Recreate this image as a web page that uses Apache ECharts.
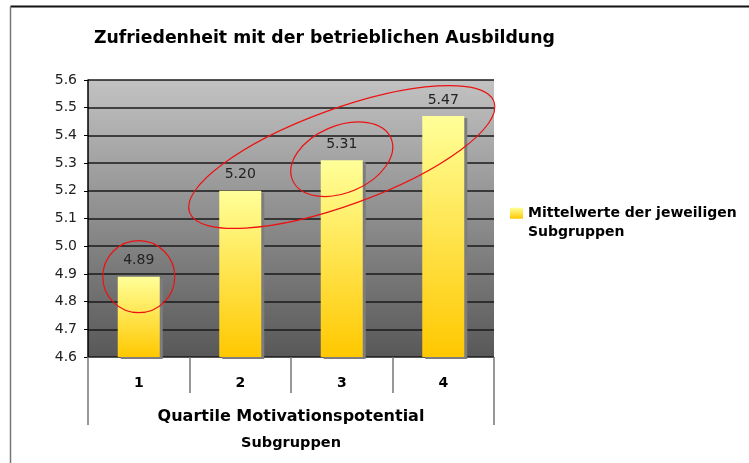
<!DOCTYPE html>
<html>
<head>
<meta charset="utf-8">
<script src="https://cdn.jsdelivr.net/npm/echarts@6/dist/echarts.min.js"></script>
<style>
html,body{margin:0;padding:0;background:#fff;}
#chart{width:749px;height:463px;}
</style>
</head>
<body>
<div id="chart"></div>
<script>
// ---- data ----
const titleText = 'Zufriedenheit mit der betrieblichen Ausbildung';
const categories = ['1', '2', '3', '4'];
const values = [4.89, 5.20, 5.31, 5.47];
const seriesName = 'Mittelwerte der jeweiligen Subgruppen';
const xAxisTitle = 'Quartile Motivationspotential';
const xAxisGroupTitle = 'Subgruppen';
const yMin = 4.6, yMax = 5.6, yStep = 0.1;
// annotation ellipses: [category position, value] centres
const markCentres = [[-0.02, 4.89], [1.96, 5.322], [1.955, 5.314]];

const FONT = 'DejaVu Sans';
const chart = echarts.init(document.getElementById('chart'), null, {renderer: 'canvas'});

const option = {
  animation: false,
  backgroundColor: '#ffffff',
  title: {
    text: titleText,
    left: 94, top: 30, padding: 0,
    textStyle: {fontFamily: FONT, fontSize: 17.3, fontWeight: 'bold', color: '#000'}
  },
  legend: {
    left: 510, top: 184, padding: 0,
    itemWidth: 13, itemHeight: 11,
    icon: 'rect',
    data: [seriesName],
    formatter: function () { return '\nMittelwerte der jeweiligen\nSubgruppen'; },
    textStyle: {fontFamily: FONT, fontSize: 14, fontWeight: 'bold', color: '#000', lineHeight: 19.5}
  },
  grid: {
    left: 88, right: 255, top: 80, bottom: 106,
    show: true, borderWidth: 0,
    backgroundColor: new echarts.graphic.LinearGradient(0, 0, 0, 1, [
      {offset: 0, color: '#c2c2c2'}, {offset: 1, color: '#585858'}
    ])
  },
  xAxis: [{
    type: 'category', data: categories, position: 'bottom',
    axisLine: {show: true, lineStyle: {color: '#555', width: 1}},
    axisTick: {show: true, length: 36, lineStyle: {color: '#777', width: 1.5}},
    axisLabel: {margin: 19, fontFamily: FONT, fontSize: 14, fontWeight: 'bold', color: '#000'},
    name: xAxisTitle, nameLocation: 'middle', nameGap: 52,
    nameTextStyle: {fontFamily: FONT, fontSize: 16, fontWeight: 'bold', color: '#000'},
    splitLine: {show: false}
  }, {
    type: 'category', data: [''], position: 'bottom',
    axisLine: {show: false},
    axisTick: {show: true, length: 68, lineStyle: {color: '#777', width: 1.5}},
    axisLabel: {show: false},
    name: xAxisGroupTitle, nameLocation: 'middle', nameGap: 79,
    nameTextStyle: {fontFamily: FONT, fontSize: 14.5, fontWeight: 'bold', color: '#000'},
    splitLine: {show: false}
  }],
  yAxis: {
    type: 'value', min: yMin, max: yMax, interval: yStep,
    axisLine: {show: true, lineStyle: {color: '#000', width: 1.5}},
    axisTick: {show: true, length: 4, lineStyle: {color: '#000'}},
    axisLabel: {margin: 11, fontFamily: FONT, fontSize: 14, color: '#222',
      formatter: function (v) { return v.toFixed(1); }},
    splitLine: {show: true, lineStyle: {color: '#1a1a1a', width: 1.5}}
  },
  series: [{
    name: seriesName,
    type: 'bar',
    xAxisIndex: 0,
    data: values,
    barWidth: 42,
    itemStyle: {
      color: new echarts.graphic.LinearGradient(0, 0, 0, 1, [
        {offset: 0, color: '#ffff99'}, {offset: 1, color: '#ffc800'}
      ]),
      shadowColor: '#7d7d7d', shadowBlur: 0, shadowOffsetX: 3, shadowOffsetY: 2
    },
    label: {
      show: true, position: 'top', distance: 9,
      fontFamily: FONT, fontSize: 14, color: '#222',
      formatter: function (p) { return p.value.toFixed(2); }
    }
  }]
};
chart.setOption(option);

// annotations: red ellipses and frame
const sizes = [[36, 36, 0], [162, 48, 20], [53.5, 33.5, 23]];
const els = [
  {type: 'line', shape: {x1: 10.5, y1: 6.5, x2: 749, y2: 6.5}, style: {stroke: '#111', lineWidth: 2}},
  {type: 'line', shape: {x1: 10.5, y1: 6.5, x2: 10.5, y2: 463}, style: {stroke: '#777', lineWidth: 1.5}}
];
markCentres.forEach(function (c, i) {
  const p = chart.convertToPixel({xAxisIndex: 0, yAxisIndex: 0}, c);
  els.push({
    type: 'ellipse', x: p[0], y: p[1], rotation: sizes[i][2] * Math.PI / 180,
    shape: {cx: 0, cy: 0, rx: sizes[i][0], ry: sizes[i][1]},
    style: {fill: null, stroke: '#ee1111', lineWidth: 1.2}, z: 100
  });
});
chart.setOption({graphic: {elements: els}});
</script>
</body>
</html>
